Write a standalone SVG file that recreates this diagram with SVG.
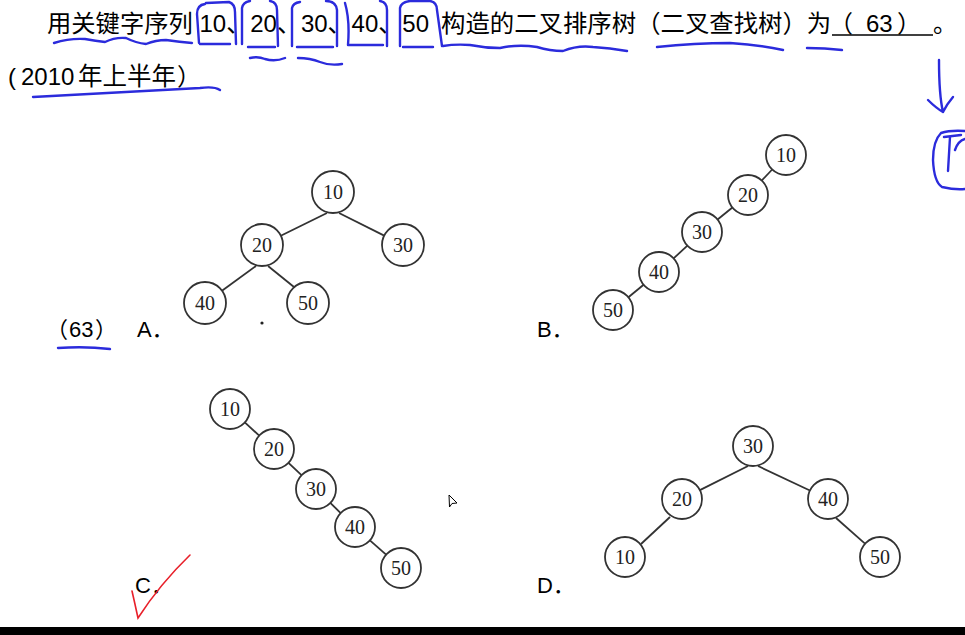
<svg xmlns="http://www.w3.org/2000/svg" width="965" height="635" viewBox="0 0 965 635">
<style>
.t{font-family:"Liberation Sans","Noto Sans CJK SC",sans-serif;font-size:24px;fill:#000}
.l{font-family:"Liberation Sans","Noto Sans CJK SC",sans-serif;font-size:22px;fill:#000}
.n circle{fill:#fff;stroke:#333;stroke-width:1.8}
.n text{font-family:"Liberation Serif",serif;font-size:20px;text-anchor:middle;fill:#222}
.e line{stroke:#333;stroke-width:1.8}
.hw{fill:none;stroke:#2b2bdc;stroke-width:2.4;stroke-linecap:round;stroke-linejoin:round}
</style>
<rect width="965" height="635" fill="#fff"/>

<g id="question">
  <text class="t" x="47" y="32" style="font-size:24.3px">用关键字序列</text>
  <text class="t" x="199.5" y="32">10、20、30、40、50</text>
  <text class="t" x="441" y="32" style="font-size:24.4px">构造的二叉排序树（二叉查找树）为</text>
  <text class="t" x="829" y="32">（</text>
  <text class="t" x="866" y="32">63</text>
  <text class="t" x="897" y="32">）</text>
  <line x1="832" y1="35" x2="933" y2="35" stroke="#000" stroke-width="1.6"/>
  <text class="t" x="933" y="32">。</text>
  <text class="t" x="8" y="85">(<tspan x="21">2010</tspan><tspan x="78" style="font-size:24.5px">年上半年</tspan><tspan x="177">）</tspan></text>
</g>

<g id="labels">
  <text class="l" x="46" y="337">（</text>
  <text class="l" x="69" y="337">63</text>
  <text class="l" x="95" y="337">）</text>
  <text class="l" x="137" y="337">A．</text>
  <text class="l" x="537" y="337">B．</text>
  <text class="l" x="135" y="593">C．</text>
  <text class="l" x="537" y="593">D．</text>
</g>

<g id="connectors" class="e">
  <line x1="327" y1="213" x2="280.8" y2="235.7"/>
  <line x1="339" y1="213" x2="384.2" y2="235.6"/>
  <line x1="256" y1="266" x2="222" y2="290.7"/>
  <line x1="268" y1="266" x2="294" y2="287"/>
  <line x1="772.2" y1="169.5" x2="761.8" y2="180.5"/>
  <line x1="732.4" y1="207.5" x2="717.6" y2="219.5"/>
  <line x1="687.4" y1="245.6" x2="673.6" y2="258.4"/>
  <line x1="643.6" y1="284.7" x2="628.4" y2="297.3"/>
  <line x1="244.8" y1="422.4" x2="259.2" y2="435.6"/>
  <line x1="288.5" y1="462.8" x2="301.5" y2="475.2"/>
  <line x1="330.3" y1="502.9" x2="340.7" y2="513.1"/>
  <line x1="369.9" y1="540.3" x2="386.1" y2="554.7"/>
  <line x1="748" y1="466" x2="699.9" y2="490.1"/>
  <line x1="758" y1="466" x2="809.9" y2="490.5"/>
  <line x1="670" y1="517" x2="641" y2="544"/>
  <line x1="836" y1="518" x2="865" y2="543.7"/>
</g>

<g id="treeA">
  <g id="a10" class="n"><circle cx="333" cy="192" r="21"/><text x="333" y="199">10</text></g>
  <g id="a20" class="n"><circle cx="262" cy="245" r="21"/><text x="262" y="252">20</text></g>
  <g id="a30" class="n"><circle cx="403" cy="245" r="21"/><text x="403" y="252">30</text></g>
  <g id="a40" class="n"><circle cx="205" cy="303" r="21"/><text x="205" y="310">40</text></g>
  <g id="a50" class="n"><circle cx="308" cy="303" r="21"/><text x="308" y="310">50</text></g>
  <circle cx="262" cy="323" r="1.6" fill="#222"/>
</g>

<g id="treeB">
  <g id="b10" class="n"><circle cx="786" cy="155" r="20"/><text x="786" y="162">10</text></g>
  <g id="b20" class="n"><circle cx="748" cy="195" r="20"/><text x="748" y="202">20</text></g>
  <g id="b30" class="n"><circle cx="702" cy="232" r="20"/><text x="702" y="239">30</text></g>
  <g id="b40" class="n"><circle cx="659" cy="272" r="20"/><text x="659" y="279">40</text></g>
  <g id="b50" class="n"><circle cx="613" cy="310" r="20"/><text x="613" y="317">50</text></g>
</g>

<g id="treeC">
  <g id="c10" class="n"><circle cx="230" cy="409" r="20"/><text x="230" y="416">10</text></g>
  <g id="c20" class="n"><circle cx="274" cy="449" r="20"/><text x="274" y="456">20</text></g>
  <g id="c30" class="n"><circle cx="316" cy="489" r="20"/><text x="316" y="496">30</text></g>
  <g id="c40" class="n"><circle cx="355" cy="527" r="20"/><text x="355" y="534">40</text></g>
  <g id="c50" class="n"><circle cx="401" cy="568" r="20"/><text x="401" y="575">50</text></g>
</g>

<g id="treeD">
  <g id="d30" class="n"><circle cx="753" cy="446" r="20"/><text x="753" y="453">30</text></g>
  <g id="d20" class="n"><circle cx="682" cy="499" r="20"/><text x="682" y="506">20</text></g>
  <g id="d40" class="n"><circle cx="828" cy="499" r="20"/><text x="828" y="506">40</text></g>
  <g id="d10" class="n"><circle cx="625" cy="557" r="20"/><text x="625" y="564">10</text></g>
  <g id="d50" class="n"><circle cx="880" cy="557" r="20"/><text x="880" y="564">50</text></g>
</g>

<g id="annotations">
  <path class="hw" d="M199,43 L197,14 Q197,5 205,4 M206,3 L229,2 Q235,4 235,12 L236,44 M200,44 L230,44"/>
  <path class="hw" d="M242,44 L242,8 Q243,2 250,1 M270,1 Q277,2 277,10 L278,46 M248,47 L275,47"/>
  <path class="hw" d="M292,46 L292,8 Q293,3 300,2 M326,1 Q336,1 337,10 L337,46 M297,47 L333,47"/>
  <path class="hw" d="M345,3 Q350,20 348,45 M380,1 Q387,2 387,10 L387,46 M348,45 L383,45"/>
  <path class="hw" d="M400,46 L400,8 Q401,2 410,1 L430,1 Q437,2 437,10 L442,46 M403,47 L433,47"/>
  <path class="hw" d="M54,43 Q70,38 85,39 Q96,41 105,42 Q115,37 126,38 Q136,43 146,44 Q156,40 166,40 Q180,42 192,43"/>
  <path class="hw" d="M443,46 Q455,44 470,45 Q485,48 500,48 Q518,44 537,47 Q550,51 563,51 Q578,45 593,47 Q610,48 627,51"/>
  <path class="hw" d="M657,47 Q695,43 730,43 Q760,45 783,50"/>
  <path class="hw" d="M807,48 Q825,48 842,50"/>
  <path class="hw" d="M250,58 Q258,56 265,59 Q275,62 285,58"/>
  <path class="hw" d="M298,58 Q310,58 320,62 Q330,66 342,64"/>
  <path class="hw" d="M33,97 Q120,92 200,88 Q214,86 220,90"/>
  <path class="hw" d="M58,348 Q85,346 110,349"/>
  <path class="hw" d="M939,60 Q939,95 943,112 M928,100 Q936,108 943,112 Q947,104 953,97"/>
  <path class="hw" d="M965,131 Q950,130 941,133 Q933,141 933,160 Q934,182 942,187 Q955,190 965,189"/>
  <path class="hw" d="M944,137 L961,135 M950,137 Q949,155 948,171 M955,150 Q958,141 965,139"/>
  <path d="M132,591 Q135,604 138,618 Q160,584 190,555" fill="none" stroke="#e8202a" stroke-width="1.6" stroke-linecap="round"/>
</g>

<g id="cursor">
  <path d="M449,495 L449.5,507 L452,503.5 L457,503 Z" fill="#fff" stroke="#000" stroke-width="1"/>
</g>

<rect x="0" y="627" width="965" height="8" fill="#000"/>
</svg>
